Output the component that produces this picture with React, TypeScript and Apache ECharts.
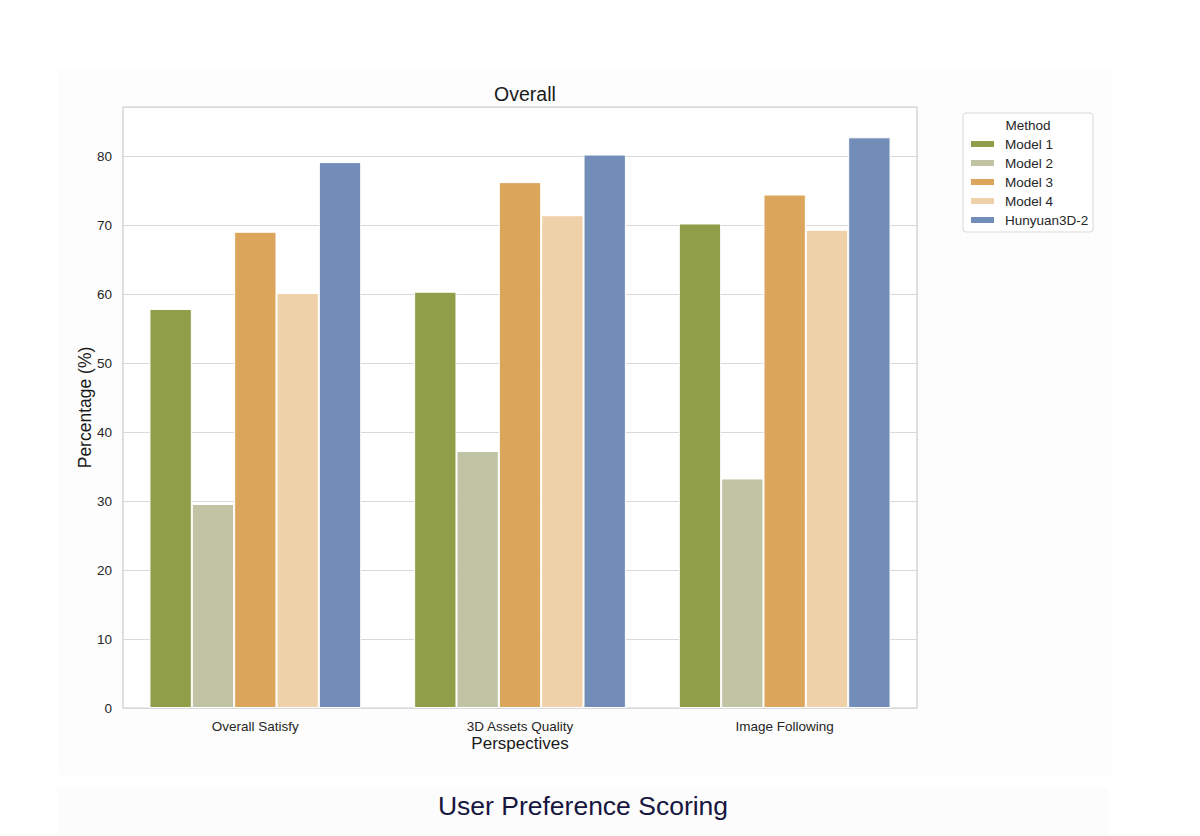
import React, { useEffect, useRef } from "react";
import * as echarts from "echarts";

const categories = ["Overall Satisfy", "3D Assets Quality", "Image Following"];
const methods = ["Model 1", "Model 2", "Model 3", "Model 4", "Hunyuan3D-2"];
const model1 = [57.9, 60.4, 70.3];
const model2 = [29.6, 37.3, 33.3];
const model3 = [69.1, 76.3, 74.5];
const model4 = [60.2, 71.5, 69.4];
const hunyuan = [79.2, 80.3, 82.8];
const seriesValues = [model1, model2, model3, model4, hunyuan];
const colors = ["#909e4a", "#c0c4a4", "#dba55c", "#efd1a9", "#718db8"];

const FONT = "Liberation Sans, Arial, Helvetica, sans-serif";

export default function App() {
  const ref = useRef<HTMLDivElement>(null);
  useEffect(() => {
    if (!ref.current) return;
    const chart = echarts.init(ref.current, null, { renderer: "svg" });
    const option: any = {
      animation: false,
      backgroundColor: "#ffffff",
      textStyle: { fontFamily: FONT },
      title: {
        text: "Overall",
        left: 520,
        top: 79,
        textAlign: "center",
        textStyle: { fontFamily: FONT, fontSize: 19.5, fontWeight: "normal", color: "#1a1a1a" },
      },
      graphic: [
        {
          type: "rect",
          z: -10,
          shape: { x: 58, y: 68, width: 1055, height: 707 },
          style: { fill: "#fdfdfd" },
        },
        {
          type: "rect",
          z: -10,
          shape: { x: 58, y: 788, width: 1050, height: 48 },
          style: { fill: "#fcfcfd" },
        },
        {
          type: "rect",
          z: -9,
          shape: { x: 123, y: 107, width: 794, height: 601 },
          style: { fill: "#ffffff" },
        },
        {
          type: "rect",
          z: 1,
          shape: { x: 963, y: 113, width: 130, height: 119, r: 3 },
          style: { fill: "#ffffff", stroke: "#d8d8d8", lineWidth: 1 },
        },
        {
          type: "text",
          z: 2,
          x: 1028,
          y: 125,
          style: {
            text: "Method",
            fontFamily: FONT,
            fontSize: 13.5,
            fill: "#262626",
            align: "center",
            verticalAlign: "middle",
          },
        },
        {
          type: "text",
          x: 583,
          y: 806,
          style: {
            text: "User Preference Scoring",
            fontFamily: FONT,
            fontSize: 26.5,
            fill: "#16163f",
            align: "center",
            verticalAlign: "middle",
          },
        },
      ],
      legend: {
        orient: "vertical",
        left: 964,
        top: 132,
        itemWidth: 25,
        itemHeight: 8,
        itemGap: 5,
        icon: "rect",
        data: methods,
        textStyle: { fontFamily: FONT, fontSize: 13.5, color: "#262626", padding: [0, 0, 0, 5] },
        z: 3,
      },
      grid: {
        left: 123,
        top: 107,
        width: 794,
        height: 601,
        show: true,
        borderColor: "#cccccc",
        borderWidth: 1.2,
        backgroundColor: "transparent",
        containLabel: false,
      },
      xAxis: {
        type: "category",
        data: categories,
        name: "Perspectives",
        nameLocation: "middle",
        nameGap: 27,
        nameMoveOverlap: false,
        nameTextStyle: { fontFamily: FONT, fontSize: 17, color: "#1a1a1a" },
        axisLine: { show: false },
        axisTick: { show: false },
        axisLabel: { fontFamily: FONT, fontSize: 13.5, color: "#262626", margin: 11 },
      },
      yAxis: {
        type: "value",
        min: 0,
        max: 87.2,
        interval: 10,
        name: "Percentage (%)",
        nameLocation: "middle",
        nameGap: 29,
        nameMoveOverlap: false,
        nameTextStyle: { fontFamily: FONT, fontSize: 17.5, color: "#1a1a1a" },
        axisLine: { show: false },
        axisTick: { show: false },
        axisLabel: {
          fontFamily: FONT,
          fontSize: 13.5,
          color: "#262626",
          margin: 11,
          showMaxLabel: false,
        },
        splitLine: { lineStyle: { color: "#d9d9d9", width: 1.2 } },
      },
      series: methods.map((m, i) => ({
        name: m,
        type: "bar",
        data: seriesValues[i],
        barGap: "0%",
        barCategoryGap: "20%",
        itemStyle: { color: colors[i], borderColor: "#ffffff", borderWidth: 1 },
      })),
    };
    chart.setOption(option);
    return () => chart.dispose();
  }, []);
  return (
    <div
      ref={ref}
      style={{ position: "fixed", left: 0, top: 0, width: 1200, height: 836 }}
    />
  );
}
